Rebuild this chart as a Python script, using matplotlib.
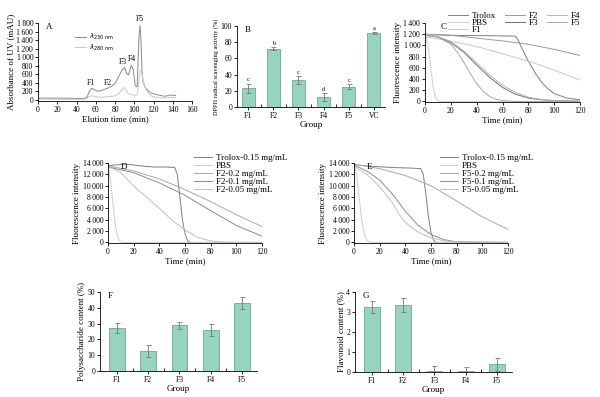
import matplotlib
matplotlib.use("Agg")
import matplotlib.pyplot as plt
from matplotlib.ticker import FuncFormatter

plt.rcParams["font.family"] = ["Liberation Serif", "DejaVu Serif"]
plt.rcParams["axes.linewidth"] = 0.6
plt.rcParams["xtick.major.width"] = 0.6
plt.rcParams["ytick.major.width"] = 0.6
plt.rcParams["xtick.minor.width"] = 0.6

# ---- panel A: elution profile
a_time = [0, 10, 20, 30, 40, 48, 51, 53, 56, 58, 62, 66, 70, 73, 76, 80, 84, 87, 90,
          92, 94, 97, 99, 101, 103, 104, 105, 106, 107, 108, 109, 111, 114, 118, 125,
          132, 137, 143]
a_230 = [40, 38, 35, 35, 30, 30, 60, 180, 270, 240, 200, 220, 250, 280, 310, 380, 550,
         680, 760, 620, 580, 810, 700, 330, 300, 900, 1500, 1740, 1400, 700, 450, 300,
         220, 150, 110, 80, 110, 100]
a_280 = [12, 12, 10, 10, 10, 10, 30, 70, 95, 80, 60, 60, 65, 70, 75, 90, 150, 230,
         290, 200, 140, 120, 110, 100, 120, 250, 500, 650, 700, 600, 450, 300, 180, 80,
         50, 40, 55, 50]
a_peaks = ["F1", "F2", "F3", "F4", "F5"]
a_peak_x = [55, 73, 88, 97, 106]
a_peak_y = [310, 300, 790, 860, 1790]

# ---- panel B: DPPH scavenging
b_groups = ["F1", "F2", "F3", "F4", "F5", "VC"]
b_values = [23, 72, 33, 12, 25, 91]
b_errors = [6, 2, 5, 5, 3, 1]
b_letters = ["c", "b", "c", "d", "c", "a"]

# ---- panel C: fluorescence of fractions
c_series = ["Trolox", "PBS", "F1", "F2", "F3", "F4", "F5"]
c_time = {
    "Trolox": [0, 10, 20, 40, 60, 70, 72, 75, 80, 85, 90, 95, 100, 110, 120],
    "PBS": [0, 2, 4, 6, 8, 10, 12, 120],
    "F1": [0, 15, 30, 45, 60, 80, 100, 120],
    "F2": [0, 20, 40, 60, 80, 100, 120],
    "F3": [0, 10, 20, 30, 40, 50, 60, 70, 80, 90, 100, 120],
    "F4": [0, 10, 20, 30, 40, 50, 60, 70, 80, 90, 100, 120],
    "F5": [0, 10, 20, 25, 30, 35, 40, 45, 50, 55, 60, 70, 120],
}
c_values = {
    "Trolox": [1200, 1190, 1180, 1175, 1170, 1165, 1100, 950, 720, 520, 350, 230, 140, 60, 30],
    "PBS": [1200, 1050, 700, 300, 80, 10, 0, 0],
    "F1": [1150, 1100, 1030, 950, 850, 720, 560, 380],
    "F2": [1200, 1180, 1130, 1080, 1020, 930, 820],
    "F3": [1180, 1150, 1050, 880, 650, 430, 250, 130, 60, 30, 15, 5],
    "F4": [1200, 1160, 1070, 900, 690, 470, 290, 160, 75, 35, 15, 5],
    "F5": [1180, 1150, 1020, 880, 700, 500, 320, 180, 90, 40, 15, 0, 0],
}
c_colors = ["#7f7f7f", "#c9d2c9", "#bfcfbf", "#9a9a9a", "#6f6f6f", "#b5b5b5", "#9fb09f"]

# ---- panel D: F2 concentrations
d_series = ["Trolox-0.15 mg/mL", "PBS", "F2-0.2 mg/mL", "F2-0.1 mg/mL", "F2-0.05 mg/mL"]
d_time = [
    [0, 3, 8, 15, 25, 35, 45, 52, 54, 56, 58, 60, 62, 64, 120],
    [0, 2, 4, 6, 8, 10, 12, 120],
    [0, 20, 40, 60, 80, 100, 120],
    [0, 20, 40, 60, 80, 100, 120],
    [0, 10, 20, 30, 40, 50, 60, 70, 80, 90, 120],
]
d_values = [
    [13500, 13600, 13700, 13800, 13500, 13300, 13300, 13200, 12000, 8000, 4000, 1500, 300, 0, 0],
    [13500, 11000, 6500, 2500, 600, 100, 0, 0],
    [13500, 12600, 11200, 9300, 7200, 4900, 2800],
    [13300, 12300, 10500, 8300, 5600, 3000, 1100],
    [13400, 12300, 9900, 8000, 6000, 3900, 2200, 900, 250, 50, 0],
]

# ---- panel E: F5 concentrations
e_series = ["Trolox-0.15 mg/mL", "PBS", "F5-0.2 mg/mL", "F5-0.1 mg/mL", "F5-0.05 mg/mL"]
e_time = [
    [0, 5, 15, 30, 45, 52, 54, 56, 58, 60, 62, 64, 120],
    [0, 2, 4, 6, 8, 10, 12, 14, 120],
    [0, 20, 40, 60, 80, 100, 120],
    [0, 10, 20, 30, 40, 50, 60, 70, 80, 120],
    [0, 10, 20, 30, 35, 40, 50, 60, 70, 80, 120],
]
e_values = [
    [13700, 13600, 13400, 13200, 13100, 13000, 12000, 8500, 4500, 1800, 400, 0, 0],
    [13500, 12000, 8000, 4000, 1500, 400, 100, 0, 0],
    [13800, 13000, 11800, 10000, 7300, 4500, 2300],
    [13600, 12600, 11000, 8500, 5500, 3000, 1400, 500, 100, 0],
    [13400, 12000, 9800, 7000, 5000, 3500, 1800, 800, 300, 80, 0],
]
e_ytick_labels = ["0", "2\u2009000", "4\u2009000", "6\u2009000", "8\u2009000",
                  "10\u2009000", "1\u20092000", "14\u2009000"]
de_colors = ["#7f7f7f", "#c9d2c9", "#a8a8a8", "#8c8c8c", "#b7c4b7"]

# ---- panels F, G: contents
fg_groups = ["F1", "F2", "F3", "F4", "F5"]
f_values = [27, 12.5, 29, 26, 43]
f_errors = [3.2, 3.8, 2.2, 3.8, 4]
g_values = [3.25, 3.35, 0.03, 0.03, 0.38]
g_errors = [0.3, 0.35, 0.25, 0.2, 0.32]

BAR = "#96d4c0"
BAR_EDGE = "#6ea893"
TICK = 5.5
LAB = 6.5

W, H = 600, 397
fig = plt.figure(figsize=(6, 3.97), dpi=100)


def px_axes(left, top, right, bottom):
    return fig.add_axes([left / W, 1 - bottom / H, (right - left) / W, (bottom - top) / H])


def thousands(v, pos):
    return f"{int(v):,}".replace(",", "\u2009")


def style(ax, letter, lx=0.05):
    for s in ("top", "right"):
        ax.spines[s].set_visible(False)
    ax.tick_params(labelsize=TICK, length=2, pad=1.5)
    ax.text(lx, 1.0, letter, transform=ax.transAxes, fontsize=LAB, va="top")


def bar_panel(ax, groups, values, errors, xlim):
    x = range(len(groups))
    ax.bar(x, values, width=0.5, color=BAR, edgecolor=BAR_EDGE, linewidth=0.6,
           yerr=errors, error_kw=dict(ecolor="#777777", elinewidth=0.6, capsize=1.8,
                                      capthick=0.6))
    ax.set_xticks(list(x))
    ax.set_xticklabels(groups)
    ax.set_xticks([i + 0.5 for i in range(len(groups) - 1)], minor=True)
    ax.tick_params(axis="x", which="major", length=0, pad=2)
    ax.tick_params(axis="x", which="minor", direction="in", length=2)
    ax.set_xlim(*xlim)
    ax.set_xlabel("Group", fontsize=LAB, labelpad=1)


# A
ax = px_axes(38, 23, 192, 101)
ax.plot(a_time, a_230, color="#8a8a8a", lw=0.7, label=r"$\lambda_{230\ \mathrm{nm}}$")
ax.plot(a_time, a_280, color="#c4ccc4", lw=0.7, label=r"$\lambda_{280\ \mathrm{nm}}$")
for name, px, py in zip(a_peaks, a_peak_x, a_peak_y):
    ax.text(px, py, name, fontsize=TICK, ha="center", va="bottom")
ax.set_xlim(0, 160)
ax.set_ylim(-30, 1800)
ax.set_xticks(range(0, 161, 20))
ax.set_yticks(range(0, 1801, 200))
ax.yaxis.set_major_formatter(FuncFormatter(thousands))
ax.set_xlabel("Elution time (min)", fontsize=LAB, labelpad=1)
ax.set_ylabel("Absorbance of UV (mAU)", fontsize=LAB, labelpad=1)
style(ax, "A")
ax.legend(loc="upper left", bbox_to_anchor=(0.22, 0.93), frameon=False, fontsize=5,
          handlelength=1.6, handletextpad=0.3, labelspacing=0.1, borderpad=0)

# B
ax = px_axes(237, 26, 385, 107)
bar_panel(ax, b_groups, b_values, b_errors, (-0.45, 5.45))
for i, (v, e, t) in enumerate(zip(b_values, b_errors, b_letters)):
    ax.text(i, v + e + 1.5, t, fontsize=4.5, ha="center", va="bottom")
ax.set_ylim(0, 100)
ax.set_yticks(range(0, 101, 20))
ax.set_ylabel("DPPH radical scavenging activity (%)", fontsize=4.5, labelpad=1)
style(ax, "B")

# C
ax = px_axes(425, 23, 580, 102)
for name, col in zip(c_series, c_colors):
    ax.plot(c_time[name], c_values[name], color=col, lw=0.7, label=name)
ax.set_xlim(0, 120)
ax.set_ylim(-10, 1400)
ax.set_xticks(range(0, 121, 20))
ax.set_yticks(range(0, 1401, 200))
ax.yaxis.set_major_formatter(FuncFormatter(thousands))
ax.set_xlabel("Time (min)", fontsize=LAB, labelpad=1)
ax.set_ylabel("Fluorescence intensity", fontsize=LAB, labelpad=1)
style(ax, "C", lx=0.1)
ax.legend(loc="upper left", bbox_to_anchor=(0.12, 1.2), ncol=3, frameon=False,
          fontsize=LAB, handlelength=2.2, labelspacing=-0.15, columnspacing=1.0,
          handletextpad=0.4, borderpad=0)


def curve_panel(rect, letter, names, times, values, colors, ylabels=None):
    ax = px_axes(*rect)
    for name, t, v, col in zip(names, times, values, colors):
        ax.plot(t, v, color=col, lw=0.7, label=name)
    ax.set_xlim(0, 120)
    ax.set_ylim(-100, 14000)
    ax.set_xticks(range(0, 121, 20))
    ax.set_yticks(range(0, 14001, 2000))
    if ylabels is None:
        ax.yaxis.set_major_formatter(FuncFormatter(thousands))
    else:
        ax.set_yticklabels(ylabels)
    ax.set_xlabel("Time (min)", fontsize=LAB, labelpad=1)
    ax.set_ylabel("Fluorescence intensity", fontsize=LAB, labelpad=1)
    style(ax, letter, lx=0.08)
    ax.legend(loc="upper left", bbox_to_anchor=(0.53, 1.17), frameon=False, fontsize=LAB,
              handlelength=2.0, labelspacing=-0.05, handletextpad=0.4, borderpad=0)
    return ax


curve_panel((108, 163, 262, 243), "D", d_series, d_time, d_values, de_colors)
curve_panel((354, 163, 508, 243), "E", e_series, e_time, e_values, de_colors, e_ytick_labels)

# F
ax = px_axes(100, 292, 257, 371)
bar_panel(ax, fg_groups, f_values, f_errors, (-0.54, 4.48))
ax.set_ylim(0, 50)
ax.set_yticks(range(0, 51, 10))
ax.set_ylabel("Polysaccharide content (%)", fontsize=LAB, labelpad=1)
style(ax, "F")

# G
ax = px_axes(355, 292, 512, 372)
bar_panel(ax, fg_groups, g_values, g_errors, (-0.54, 4.48))
ax.set_ylim(0, 4)
ax.set_yticks(range(0, 5))
ax.set_ylabel("Flavonoid content (%)", fontsize=LAB, labelpad=1)
style(ax, "G")

fig.savefig("out.png", dpi=100)
